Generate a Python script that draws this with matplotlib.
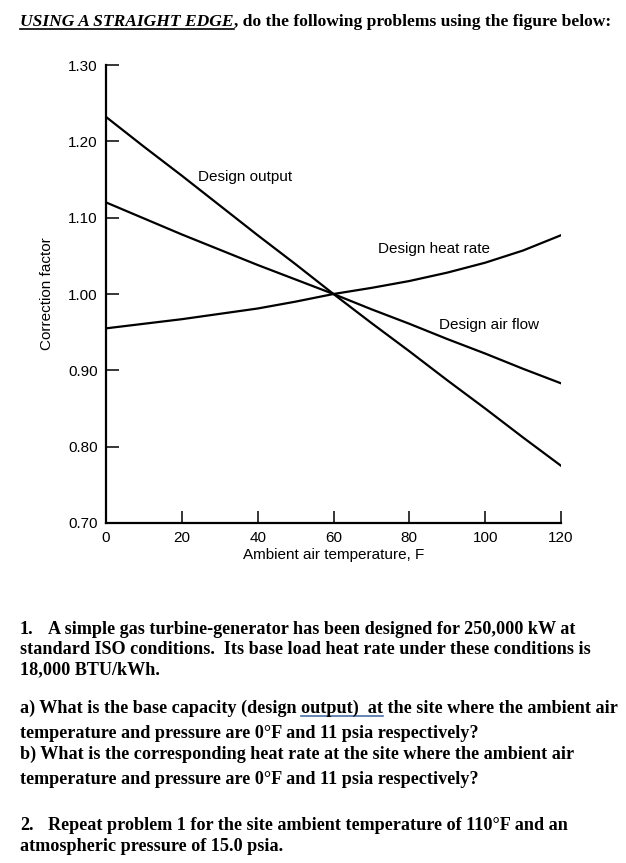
import matplotlib.pyplot as plt

# values
temps = [0, 10, 20, 30, 40, 50, 60, 70, 80, 90, 100, 110, 120]
design_output = [1.232, 1.193, 1.155, 1.116, 1.077, 1.039, 1.000,
                 0.962, 0.925, 0.887, 0.850, 0.812, 0.775]
design_air_flow = [1.120, 1.099, 1.078, 1.058, 1.038, 1.019, 1.000,
                   0.980, 0.961, 0.941, 0.922, 0.902, 0.883]
design_heat_rate = [0.955, 0.961, 0.967, 0.974, 0.981, 0.990, 1.000,
                    1.008, 1.017, 1.028, 1.041, 1.057, 1.077]

x_ticks = [0, 20, 40, 60, 80, 100, 120]
y_ticks = [0.70, 0.80, 0.90, 1.00, 1.10, 1.20, 1.30]

W, H = 626, 863
fig = plt.figure(figsize=(W / 100, H / 100), dpi=100)
renderer = fig.canvas.get_renderer()

SANS = 'Liberation Sans'
SERIF = 'Liberation Serif'


def px(x, y):
    return x / W, 1 - y / H


def draw_runs(x, y, runs, size=13.1):
    # runs: (text, italic, underline colour)
    for text, italic, ul in runs:
        t = fig.text(*px(x, y), text, fontsize=size, family=SERIF, weight='bold',
                     style='italic' if italic else 'normal', va='baseline', ha='left')
        bb = t.get_window_extent(renderer)
        if ul is not None:
            yy = 1 - (y + 3) / H
            fig.add_artist(plt.Line2D([x / W, (x + bb.width) / W], [yy, yy],
                                      color=ul, lw=1.2, transform=fig.transFigure))
        x += bb.width


# heading
draw_runs(20, 26, [('USING A STRAIGHT EDGE', True, 'black'),
                   (', do the following problems using the figure below:', False, None)],
          size=12.6)

# chart
ax = fig.add_axes([106 / W, 1 - 523 / H, (561 - 106) / W, (523 - 65) / H])
ax.plot(temps, design_output, color='black', lw=1.6)
ax.plot(temps, design_air_flow, color='black', lw=1.6)
ax.plot(temps, design_heat_rate, color='black', lw=1.6)

ax.set_xlim(0, 120)
ax.set_ylim(0.70, 1.30)
ax.set_xticks(x_ticks)
ax.set_yticks(y_ticks)
ax.set_xticklabels([str(v) for v in x_ticks], family=SANS, fontsize=11)
ax.set_yticklabels(['%.2f' % v for v in y_ticks], family=SANS, fontsize=11)
ax.tick_params(direction='in', length=9, width=1.1, pad=6)
ax.spines['top'].set_visible(False)
ax.spines['right'].set_visible(False)
ax.spines['left'].set_linewidth(1.6)
ax.spines['bottom'].set_linewidth(1.6)

ax.set_xlabel('Ambient air temperature, F', family=SANS, fontsize=11, labelpad=2)
ax.set_ylabel('Correction factor', family=SANS, fontsize=11, labelpad=10)

ax.text(24.3, 1.153, 'Design output', family=SANS, fontsize=11, va='center')
ax.text(71.8, 1.059, 'Design heat rate', family=SANS, fontsize=11, va='center')
ax.text(87.9, 0.959, 'Design air flow', family=SANS, fontsize=11, va='center')

# questions
draw_runs(20, 634, [('1.', False, None)])
draw_runs(48, 634, [('A simple gas turbine-generator has been designed for 250,000 kW at', False, None)])
draw_runs(20, 654, [('standard ISO conditions.  Its base load heat rate under these conditions is', False, None)])
draw_runs(20, 674, [('18,000 BTU/kWh.', False, None)])
draw_runs(20, 713, [('a) What is the base capacity (design ', False, None),
                    ('output)  at', False, '#4a6fa5'),
                    (' the site where the ambient air', False, None)])
draw_runs(20, 738, [('temperature and pressure are 0\u00b0F and 11 psia respectively?', False, None)])
draw_runs(20, 759, [('b) What is the corresponding heat rate at the site where the ambient air', False, None)])
draw_runs(20, 784, [('temperature and pressure are 0\u00b0F and 11 psia respectively?', False, None)])
draw_runs(20, 830, [('2.', False, None)])
draw_runs(48, 830, [('Repeat problem 1 for the site ambient temperature of 110\u00b0F and an', False, None)])
draw_runs(20, 851, [('atmospheric pressure of 15.0 psia.', False, None)])

fig.savefig('out.png', dpi=100)
